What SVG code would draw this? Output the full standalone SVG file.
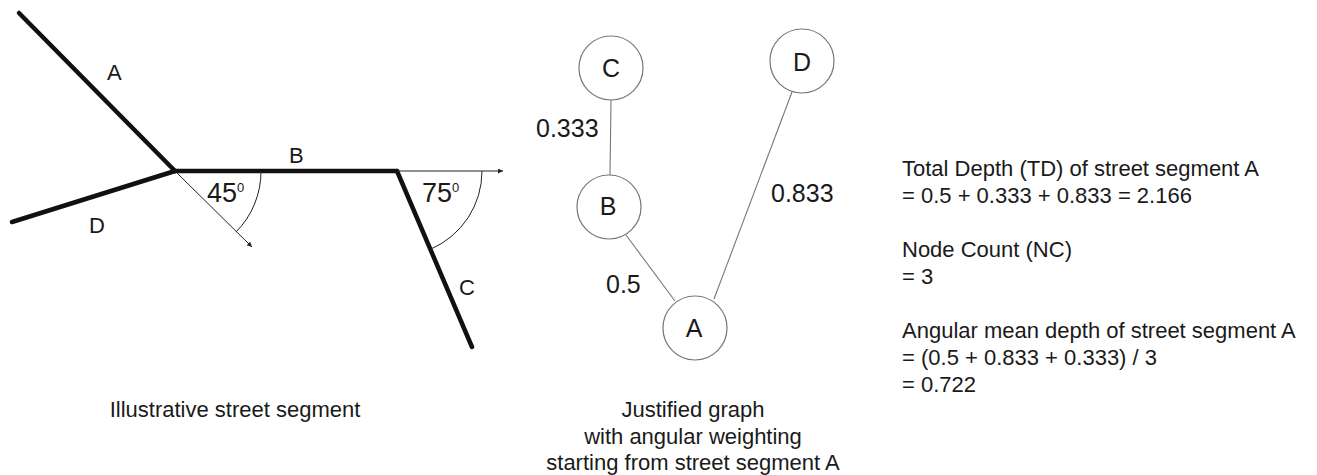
<svg xmlns="http://www.w3.org/2000/svg" width="1317" height="475" viewBox="0 0 1317 475">
<style>
text{font-family:"Liberation Sans",Arial,sans-serif;fill:#1a1a1a}
.lbl{font-size:22px}
.ang{font-size:27px}
.sup{font-size:13px}
.g{font-size:25px}
.seg{stroke:#111;stroke-width:4.5;stroke-linecap:round;fill:none}
.thin{stroke:#222;stroke-width:1;fill:none}
.node{fill:#fff;stroke:#777;stroke-width:1.2}
.edge{stroke:#777;stroke-width:1.1;fill:none}
</style>
<defs>
<marker id="ah" viewBox="0 0 10 10" refX="10" refY="5" markerWidth="7" markerHeight="5" markerUnits="userSpaceOnUse" orient="auto">
<path d="M0,0 L10,5 L0,10 z" fill="#222"/>
</marker>
</defs>
<g id="street-segments">
<line class="seg" x1="19" y1="13" x2="175" y2="171"/>
<line class="seg" x1="12" y1="222" x2="175" y2="171"/>
<line class="seg" x1="175" y1="171" x2="397" y2="171"/>
<line class="seg" x1="397" y1="171" x2="472" y2="347"/>
<line class="thin" x1="175" y1="171" x2="252" y2="247" marker-end="url(#ah)"/>
<line class="thin" x1="397" y1="171" x2="503" y2="171" stroke="#555" marker-end="url(#ah)"/>
<path class="thin" d="M261,171 A86,86 0 0 1 236,232"/>
<path class="thin" d="M482,171 A85,85 0 0 1 431,249"/>
<text class="lbl" x="107" y="80">A</text>
<text class="lbl" x="289" y="163">B</text>
<text class="lbl" x="459" y="295">C</text>
<text class="lbl" x="89" y="233">D</text>
<text class="ang" x="207" y="202">45<tspan class="sup" dy="-10">0</tspan></text>
<text class="ang" x="422" y="202">75<tspan class="sup" dy="-10">0</tspan></text>
<text class="lbl" x="235" y="417" text-anchor="middle">Illustrative street segment</text>
</g>
<g id="connectors">
<line class="edge" x1="611" y1="100" x2="610" y2="175"/>
<line class="edge" x1="626" y1="235" x2="675" y2="301"/>
<line class="edge" x1="714" y1="299" x2="792" y2="92"/>
<text class="g" x="536" y="137">0.333</text>
<text class="g" x="771" y="202">0.833</text>
<text class="g" x="606" y="293">0.5</text>
</g>
<g id="node-C"><circle class="node" cx="611" cy="68" r="32"/><text class="g" x="611" y="77" text-anchor="middle">C</text></g>
<g id="node-D"><circle class="node" cx="802" cy="61" r="32"/><text class="g" x="802" y="71" text-anchor="middle">D</text></g>
<g id="node-B"><circle class="node" cx="609" cy="207" r="32"/><text class="g" x="608" y="215" text-anchor="middle">B</text></g>
<g id="node-A"><circle class="node" cx="695" cy="328" r="32"/><text class="g" x="694" y="337" text-anchor="middle">A</text></g>
<g id="graph-caption">
<text class="lbl" x="693" y="417" text-anchor="middle">Justified graph</text>
<text class="lbl" x="693" y="444" text-anchor="middle">with angular weighting</text>
<text class="lbl" x="693" y="470" text-anchor="middle">starting from street segment A</text>
</g>
<g id="measures">
<text class="lbl" x="902" y="176">Total Depth (TD) of street segment A</text>
<text class="lbl" x="902" y="203">= 0.5 + 0.333 + 0.833 = 2.166</text>
<text class="lbl" x="902" y="257">Node Count (NC)</text>
<text class="lbl" x="902" y="284">= 3</text>
<text class="lbl" x="902" y="338">Angular mean depth of street segment A</text>
<text class="lbl" x="902" y="365">= (0.5 + 0.833 + 0.333) / 3</text>
<text class="lbl" x="902" y="392">= 0.722</text>
</g>
</svg>
